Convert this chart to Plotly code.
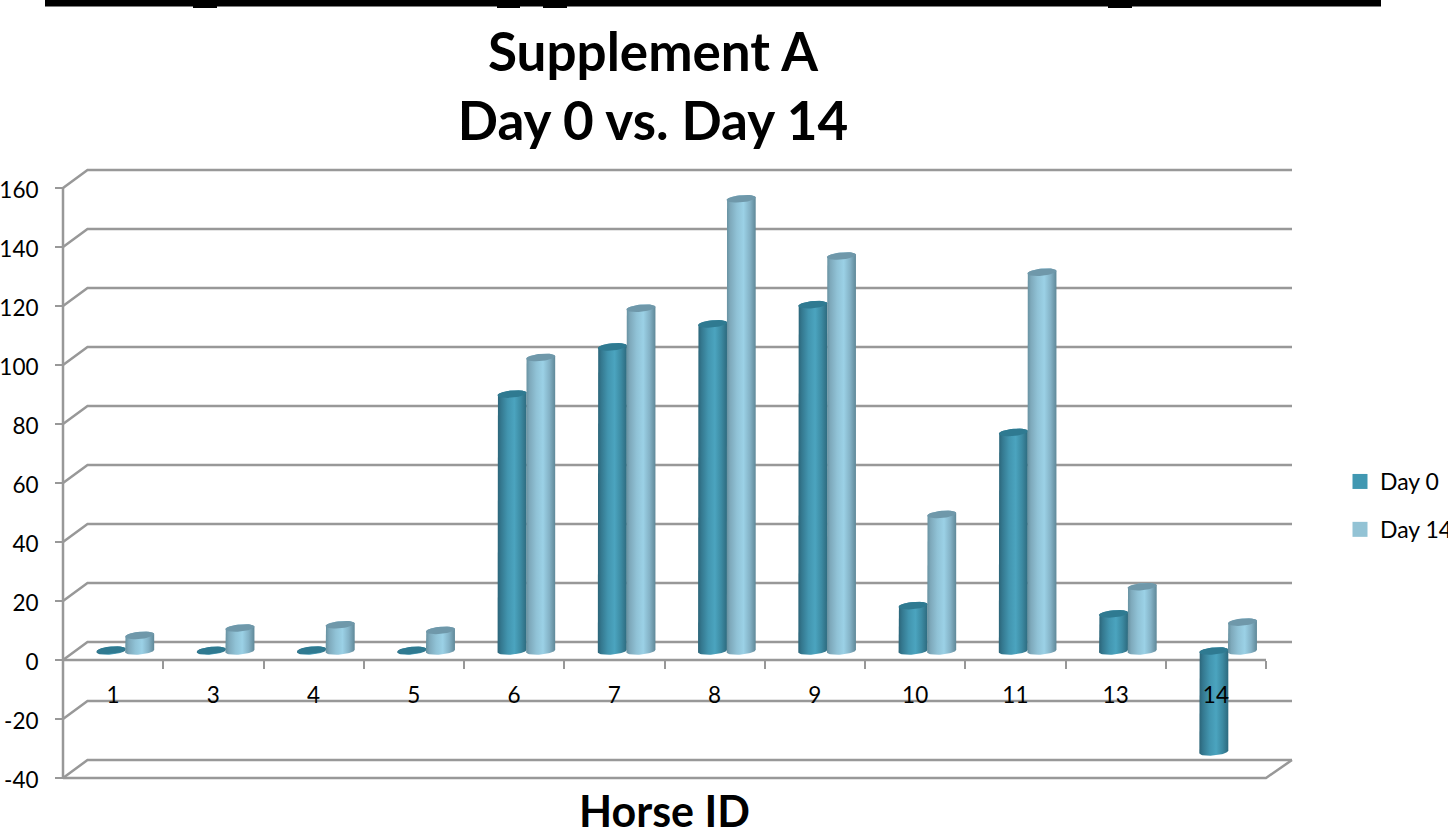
import math
import plotly.graph_objects as go

# ---- data
horse_ids = ["1", "3", "4", "5", "6", "7", "8", "9", "10", "11", "13", "14"]
day0 = [0.3, 0.2, 0.3, 0.2, 87.1, 103.1, 110.9, 117.4, 15.4, 74.1, 12.6, -34.2]
day14 = [5.3, 7.8, 8.9, 7.0, 99.5, 116.2, 153.3, 133.9, 46.3, 128.4, 21.8, 9.8]
y_ticks = [-40, -20, 0, 20, 40, 60, 80, 100, 120, 140, 160]
y_tick_labels = ["-40", "-20", "0", "20", "40", "60", "80", "100", "120", "140", "160"]

# ---- layout geometry (pixels)
W, H = 1470, 836       # drawn a little wider than the window so the legend, cut at the edge, is not squeezed
FRONT_L, BACK_R, BACK_T, FLOOR = 63, 1292, 170, 778   # the box itself
PAD = 5                                               # room so that its edge lines are not clipped
PX_CAT = 100.25
PX_UNIT = 2.95
x_lo, x_hi = -0.5, -0.5 + (BACK_R - FRONT_L) / PX_CAT
y_lo, y_hi = -40, -40 + (FLOOR - BACK_T) / PX_UNIT
x_rng = [x_lo - PAD / PX_CAT, x_hi + PAD / PX_CAT]
y_rng = [y_lo - PAD / PX_UNIT, y_hi + PAD / PX_UNIT]
DX, DZ = 24.5 / PX_CAT, 18.0 / PX_UNIT       # depth of the box
BX, BZ = DX / 2, DZ / 2                       # where the cylinders stand
HALF = 14.5 / PX_CAT
GAP = 14.3 / PX_CAT
EB, EK = 3.6 / PX_UNIT, 1.3 / PX_UNIT         # ellipse height and tilt
GRID = "#989898"
FONT = "Lato"

CS0 = [[0, "#2b6478"], [0.12, "#34788f"], [0.35, "#4295af"], [0.58, "#4ba4bf"],
       [0.8, "#3c8aa2"], [1, "#2d6a7e"]]
CS14 = [[0, "#66909f"], [0.12, "#7ea9bb"], [0.35, "#90c2d6"], [0.58, "#9bd1e6"],
        [0.8, "#84b2c6"], [1, "#5f8898"]]
CAP0, CAP14 = "#2f7a91", "#6f98aa"
SOLID0, SOLID14 = "#4198b2", "#93c3d5"


def ell(cx, cy, t0, t1, n=28):
    xs, ys = [], []
    for i in range(n + 1):
        t = t0 + (t1 - t0) * i / n
        xs.append(cx + HALF * math.cos(t))
        ys.append(cy + EB * math.sin(t) + EK * math.cos(t))
    return xs, ys


fig = go.Figure()

# box lines
gx, gy = [], []
for v in y_ticks:
    gx += [x_lo, x_lo + DX, x_hi, None]
    gy += [v, v + DZ, v + DZ, None]
gx += [x_lo, 11.5, x_hi, None, x_lo, 11.5, None, x_lo, x_lo]
gy += [-40, -40, -40 + DZ, None, 0, 0, None, -40, 160]
fig.add_trace(go.Scatter(x=gx, y=gy, mode="lines", showlegend=False, hoverinfo="skip",
                         line=dict(color=GRID, width=2.5)))


def series(vals, name, offs, cs, cap, solid):
    xs = [i + BX + offs for i in range(len(vals))]
    fig.add_trace(go.Bar(x=xs, y=vals, base=BZ, width=HALF * 1.3, name=name,
                         marker=dict(color=solid, line_width=0), showlegend=False))
    for c, v in zip(xs, vals):
        top, bot = max(v, 0) + BZ, min(v, 0) + BZ
        bx, by = ell(c, bot, 0, -math.pi)       # lower half, right to left
        tx, ty = ell(c, top, math.pi, 0)        # upper edge, left to right
        fig.add_trace(go.Scatter(
            x=bx + tx, y=by + ty, mode="lines", fill="toself", showlegend=False,
            hoverinfo="skip", line=dict(width=0, color=solid),
            fillgradient=dict(type="horizontal", colorscale=cs)))
    cx, cy = [], []
    for c, v in zip(xs, vals):
        ex, ey = ell(c, max(v, 0) + BZ, 0, 2 * math.pi, 40)
        cx += ex + [None]
        cy += ey + [None]
    fig.add_trace(go.Scatter(x=cx, y=cy, mode="lines", fill="toself", fillcolor=cap,
                             line=dict(width=0, color=cap), showlegend=False, hoverinfo="skip"))
    # legend swatch
    fig.add_trace(go.Scatter(x=[None], y=[None], mode="markers", name=name, legendgroup=name,
                             marker=dict(symbol="square", size=15, color=solid, line_width=0)))


series(day0, "Day 0", -GAP, CS0, CAP0, SOLID0)
series(day14, "Day 14", GAP, CS14, CAP14, SOLID14)

# carrier of the horse-ID axis
fig.add_trace(go.Scatter(x=horse_ids, y=[0] * len(horse_ids), xaxis="x2", yaxis="y2", mode="none",
                         showlegend=False, hoverinfo="skip"))


def px(x):
    return x / W


def py(y):
    return (H - y) / H


shapes = [dict(type="rect", xref="paper", yref="paper", x0=px(45), x1=px(1381), y0=py(6.5), y1=py(0),
               fillcolor="#000", line_width=0)]
for a, b in [(193, 217), (497, 520), (543, 567), (1108, 1132)]:
    shapes.append(dict(type="rect", xref="paper", yref="paper", x0=px(a), x1=px(b), y0=py(8), y1=py(0),
                       fillcolor="#000", line_width=0))

fig.update_layout(
    width=W, height=H, autosize=False,
    margin=dict(l=0, r=0, t=0, b=0),
    paper_bgcolor="#fff", plot_bgcolor="rgba(0,0,0,0)",
    barmode="overlay", bargap=0,
    font=dict(family=FONT, color="#000", size=22.5),
    title=dict(text="<b>Supplement A<br>Day 0 vs. Day 14</b>", font=dict(family=FONT, size=53, color="#000"),
               x=px(653), xanchor="center", y=py(71), yanchor="top", pad=dict(t=0)),
    xaxis=dict(range=x_rng, domain=[px(FRONT_L - PAD), px(BACK_R + PAD)], visible=False, fixedrange=True,
               automargin=False),
    yaxis=dict(range=y_rng, domain=[py(FLOOR + PAD), py(BACK_T - PAD)], anchor="free", position=px(FRONT_L),
               tickmode="array", tickvals=y_ticks,
               ticktext=y_tick_labels, ticks="outside", ticklen=8, automargin=False,
               tickwidth=2, tickcolor=GRID, showgrid=False, zeroline=False, showline=False,
               ticklabelstandoff=12, ticklabelshift=2, tickfont=dict(size=22.5, family=FONT), fixedrange=True),
    xaxis2=dict(type="category", categoryorder="array", categoryarray=horse_ids, anchor="y2",
                domain=[px(FRONT_L), px(1266)], range=[-0.5, 11.5], tickson="boundaries", ticks="outside",
                ticklen=8, tickwidth=2, tickcolor=GRID, showline=False, showgrid=False, zeroline=False,
                ticklabelstandoff=19, tickfont=dict(size=22.5, family=FONT), fixedrange=True,
                automargin=False,
                title=dict(text="<b>Horse ID</b>", font=dict(size=43, family=FONT), standoff=103)),
    yaxis2=dict(domain=[py(660), 1], range=[0, 1], visible=False, fixedrange=True, automargin=False),
    legend=dict(x=px(1340), xanchor="left", y=py(460), yanchor="top", font=dict(size=23, family=FONT),
                traceorder="grouped", tracegroupgap=15, bgcolor="rgba(0,0,0,0)", itemclick=False,
                itemdoubleclick=False, entrywidth=72, entrywidthmode="pixels"),
    shapes=shapes,
)

fig.write_html("out.html", config={"displayModeBar": False},
               post_script="document.body.style.margin='0';document.body.style.overflow='hidden';")
